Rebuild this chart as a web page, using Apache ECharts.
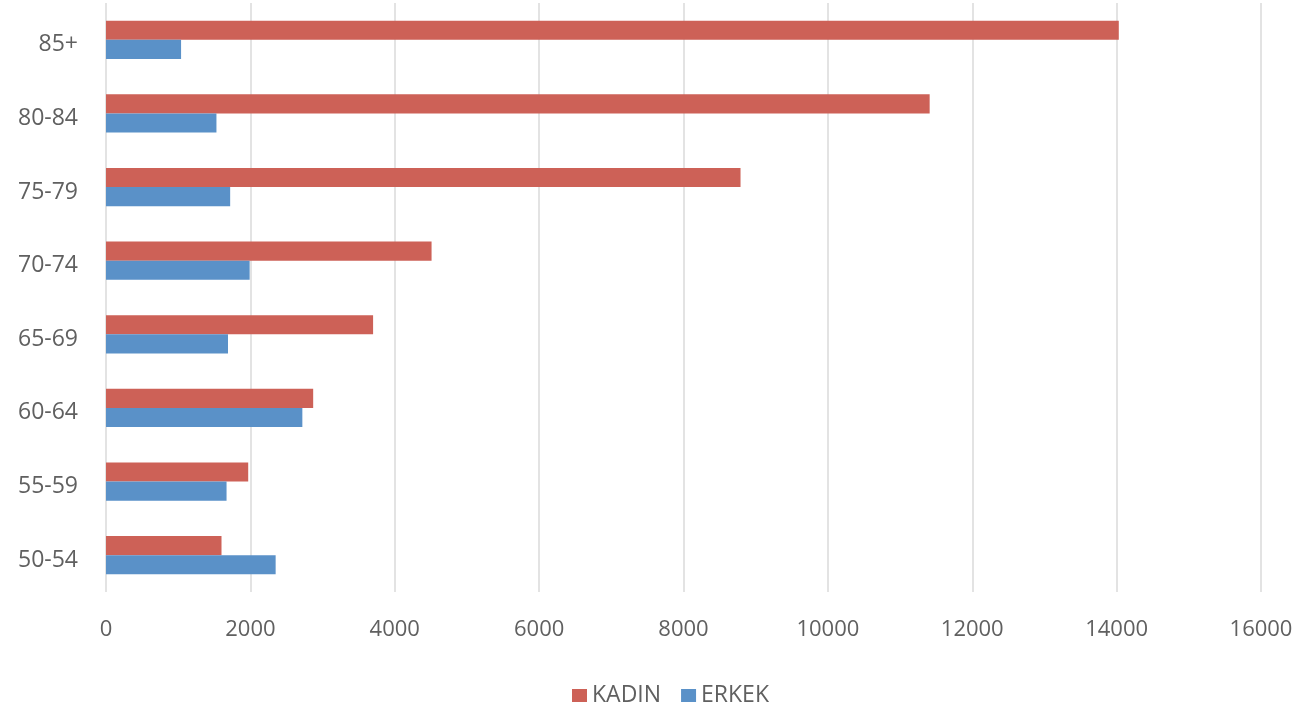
<!DOCTYPE html>
<html>
<head>
<meta charset="utf-8">
<script src="https://cdn.jsdelivr.net/npm/echarts@6/dist/echarts.min.js"></script>
<style>
html,body{margin:0;padding:0;background:#fff;}
#chart{width:1301px;height:714px;}
</style>
</head>
<body>
<div id="chart"></div>
<script>
const categories = ['50-54', '55-59', '60-64', '65-69', '70-74', '75-79', '80-84', '85+'];
const kadin = [1600, 1970, 2870, 3700, 4510, 8790, 11410, 14030];
const erkek = [2350, 1670, 2720, 1690, 1990, 1720, 1530, 1040];
const xTicks = { min: 0, max: 16000, interval: 2000 };

const chart = echarts.init(document.getElementById('chart'));
const font = 'Open Sans';
const textColor = '#606060';
chart.setOption({
  animation: false,
  backgroundColor: '#ffffff',
  grid: { left: 106, right: 40, top: 3, bottom: 122, containLabel: false },
  legend: {
    top: 679,
    left: 567,
    itemWidth: 15,
    itemHeight: 13,
    itemGap: 20,
    icon: 'rect',
    textStyle: { fontFamily: font, fontSize: 23, color: textColor },
    data: ['KADIN', 'ERKEK']
  },
  xAxis: {
    type: 'value',
    min: xTicks.min, max: xTicks.max, interval: xTicks.interval,
    axisLine: { show: false },
    axisTick: { show: false },
    splitLine: { show: true, lineStyle: { color: '#DADADA', width: 1.5 } },
    axisLabel: { fontFamily: font, fontSize: 22, color: textColor, margin: 27, formatter: v => String(v) }
  },
  yAxis: {
    type: 'category',
    data: categories,
    axisLine: { show: false },
    axisTick: { show: false },
    axisLabel: {
      margin: 28,
      formatter: v => '{a|' + v + '}',
      rich: { a: { fontFamily: font, fontSize: 23, color: textColor, padding: [10, 0, 0, 0] } }
    }
  },
  series: [
    { name: 'KADIN', type: 'bar', data: kadin, itemStyle: { color: '#CD6157' }, barGap: '0%', barCategoryGap: '48%' },
    { name: 'ERKEK', type: 'bar', data: erkek, itemStyle: { color: '#5A91C8' }, barGap: '0%', barCategoryGap: '48%' }
  ]
});
</script>
</body>
</html>
